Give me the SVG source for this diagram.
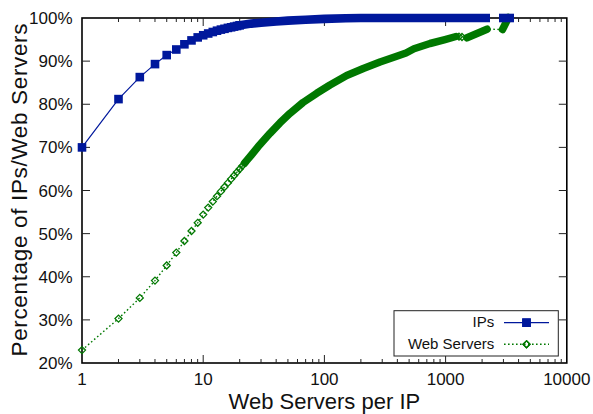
<svg xmlns="http://www.w3.org/2000/svg" width="593" height="414" viewBox="0 0 593 414">
  <style>
    text { font-family: "Liberation Sans", Arial, Helvetica, sans-serif; fill: #111; }
    .tick-label { font-size: 17px; }
    .axis-title { font-size: 22px; }
    .legend-label { font-size: 15px; text-anchor: end; }
    .border { fill: none; stroke: #000; stroke-width: 1.6; }
    .ticks { fill: none; stroke: #222; stroke-width: 1; }
    .ips-line { fill: none; stroke: #00189c; stroke-width: 1.2; }
    .ips-band { fill: none; stroke: #00189c; stroke-width: 8.6; stroke-linecap: square; }
    .ws-line { fill: none; stroke: #007800; stroke-width: 1.4; stroke-dasharray: 1.6 2.4; }
    .ws-band { fill: none; stroke: #007800; stroke-width: 7.5; stroke-linecap: round; stroke-linejoin: round; }
    .ips-pts { fill: none; stroke: none; marker-start: url(#sq); marker-mid: url(#sq); marker-end: url(#sq); }
    .ws-pts { fill: none; stroke: none; marker-start: url(#dm); marker-mid: url(#dm); marker-end: url(#dm); }
  </style>
  <defs>
    <marker id="sq" viewBox="-5 -5 10 10" refX="0" refY="0" markerWidth="10" markerHeight="10" markerUnits="userSpaceOnUse" overflow="visible">
      <rect x="-4.3" y="-4.3" width="8.6" height="8.6" fill="#00189c"/>
    </marker>
    <marker id="dm" viewBox="-5 -5 10 10" refX="0" refY="0" markerWidth="10" markerHeight="10" markerUnits="userSpaceOnUse" overflow="visible">
      <path d="M0,-3.5 L3.5,0 L0,3.5 L-3.5,0 Z" fill="none" stroke="#007800" stroke-width="1.3"/>
    </marker>
  </defs>

  <!-- frame and tick marks (log x axis, 121.2 px per decade) -->
  <g id="axes">
    <rect class="border" x="82" y="18" width="484.8" height="345"/>
    <path class="ticks" d="
      M82,319.875 h8 M82,276.75 h8 M82,233.625 h8 M82,190.5 h8 M82,147.375 h8 M82,104.25 h8 M82,61.125 h8
      M566.8,319.875 h-8 M566.8,276.75 h-8 M566.8,233.625 h-8 M566.8,190.5 h-8 M566.8,147.375 h-8 M566.8,104.25 h-8 M566.8,61.125 h-8
      M203.2,363 v-8 M324.4,363 v-8 M445.6,363 v-8
      M203.2,18 v8 M324.4,18 v8 M445.6,18 v8
      M118.49,363 v-4 M139.83,363 v-4 M154.97,363 v-4 M166.72,363 v-4 M176.31,363 v-4 M184.43,363 v-4 M191.45,363 v-4 M197.65,363 v-4
      M239.69,363 v-4 M261.03,363 v-4 M276.17,363 v-4 M287.92,363 v-4 M297.51,363 v-4 M305.63,363 v-4 M312.65,363 v-4 M318.85,363 v-4
      M360.89,363 v-4 M382.23,363 v-4 M397.37,363 v-4 M409.12,363 v-4 M418.71,363 v-4 M426.83,363 v-4 M433.85,363 v-4 M440.05,363 v-4
      M482.09,363 v-4 M503.43,363 v-4 M518.57,363 v-4 M530.32,363 v-4 M539.91,363 v-4 M548.03,363 v-4 M555.05,363 v-4 M561.25,363 v-4
      M118.49,18 v4 M139.83,18 v4 M154.97,18 v4 M166.72,18 v4 M176.31,18 v4 M184.43,18 v4 M191.45,18 v4 M197.65,18 v4
      M239.69,18 v4 M261.03,18 v4 M276.17,18 v4 M287.92,18 v4 M297.51,18 v4 M305.63,18 v4 M312.65,18 v4 M318.85,18 v4
      M360.89,18 v4 M382.23,18 v4 M397.37,18 v4 M409.12,18 v4 M418.71,18 v4 M426.83,18 v4 M433.85,18 v4 M440.05,18 v4
      M482.09,18 v4 M503.43,18 v4 M518.57,18 v4 M530.32,18 v4 M539.91,18 v4 M548.03,18 v4 M555.05,18 v4 M561.25,18 v4"/>
  </g>

  <g id="y-tick-labels" class="tick-label" text-anchor="end">
    <text x="72.5" y="24">100%</text>
    <text x="72.5" y="67.1">90%</text>
    <text x="72.5" y="110.3">80%</text>
    <text x="72.5" y="153.4">70%</text>
    <text x="72.5" y="196.5">60%</text>
    <text x="72.5" y="239.6">50%</text>
    <text x="72.5" y="282.8">40%</text>
    <text x="72.5" y="325.9">30%</text>
    <text x="72.5" y="369">20%</text>
  </g>

  <g id="x-tick-labels" class="tick-label" text-anchor="middle">
    <text x="82" y="384.5">1</text>
    <text x="203.2" y="384.5">10</text>
    <text x="324.4" y="384.5">100</text>
    <text x="445.6" y="384.5">1000</text>
    <text x="566.8" y="384.5">10000</text>
  </g>

  <g id="axis-titles" class="axis-title">
    <text x="324.4" y="408.5" text-anchor="middle">Web Servers per IP</text>
    <text transform="translate(27,190) rotate(-90)" text-anchor="middle" font-size="22.5" textLength="333" lengthAdjust="spacing">Percentage of IPs/Web Servers</text>
  </g>

  <!-- series: Web Servers (dotted line, hollow diamonds) -->
  <g id="series-web-servers">
    <path class="ws-line" d="M82,350.1 L118.5,318.6 L139.8,297.9 L155,280.6 L166.7,265.5 L176.3,252.6 L184.4,241 L191.5,231 L197.7,222.8 L203.2,214.6 L208.2,207.6 L212.8,201.6 L217,196.2 L220.9,191.4 L224.5,187 L227.9,182.9 L231.1,179.1 L234.1,175.5 L237,172.1 L239.7,169 L242.25,166 L244.7,163 L247.05,160.2 L249.3,157.5 L251.4,155 L258,146.8 L270,133.3 L280,122.8 L290,113.3 L303,102.5 L316.7,93.3 L330,85 L346.7,75.5 L363.3,68.5 L380,62 L396,56.5 L406,53 L414,48.8 L430,43.5 L445,39.6 L456,36.5 L459,36.7 L462,37 L467,37.8 L487,29.2 L502.5,29.5 L508.5,17.5"/>
    <path class="ws-band" d="M244.7,163 L247.05,160.2 L251.4,155 L258,146.8 L270,133.3 L280,122.8 L290,113.3 L303,102.5 L316.7,93.3 L330,85 L346.7,75.5 L363.3,68.5 L380,62 L396,56.5 L406,53 L414,48.8 L430,43.5 L445,39.6 L456,36.5"/>
    <path class="ws-band" d="M467,37.8 L487,29.2"/>
    <path class="ws-band" d="M502.5,29.5 L508.5,17.5"/>
    <path class="ws-pts" d="M82,350.1 L118.5,318.6 L139.8,297.9 L155,280.6 L166.7,265.5 L176.3,252.6 L184.4,241 L191.5,231 L197.7,222.8 L203.2,214.6 L208.2,207.6 L212.8,201.6 L217,196.2 L220.9,191.4 L224.5,187 L227.9,182.9 L231.1,179.1 L234.1,175.5 L237,172.1 L239.7,169 L242.25,166 L244.7,163 L459,36.7 L462,37"/>
  </g>

  <!-- series: IPs (solid line, filled squares) -->
  <g id="series-ips">
    <path class="ips-line" d="M82,147.4 L118.5,99.1 L139.8,77.1 L155,64.1 L166.7,55.1 L176.3,49.5 L184.4,44.3 L191.5,40.4 L197.7,37.4 L203.2,35.25 L208.2,33.5 L212.8,32 L217,30.7 L220.9,29.6 L224.5,28.8 L227.9,27.9 L231.1,27.3 L234.1,26.6 L237,26 L239.7,25.3 L251.4,23.6 L261,22.7 L276.2,21.45 L287.9,20.6 L305.6,19.7 L324.4,18.9 L345.7,18.2 L360.9,18 L485.7,18 M503.3,18 L509.7,18"/>
    <path class="ips-band" d="M239.7,25.3 L251.4,23.6 L261,22.7 L276.2,21.45 L287.9,20.6 L305.6,19.7 L324.4,18.9 L345.7,18.2 L360.9,18 L485.7,18"/>
    <path class="ips-band" d="M503.3,18 L509.7,18"/>
    <path class="ips-pts" d="M82,147.4 L118.5,99.1 L139.8,77.1 L155,64.1 L166.7,55.1 L176.3,49.5 L184.4,44.3 L191.5,40.4 L197.7,37.4 L203.2,35.25 L208.2,33.5 L212.8,32 L217,30.7 L220.9,29.6 L224.5,28.8 L227.9,27.9 L231.1,27.3 L234.1,26.6 L237,26 L239.7,25.3"/>
  </g>

  <!-- key -->
  <g id="legend">
    <rect x="394" y="310.7" width="164.3" height="45.3" fill="#fff" stroke="#222" stroke-width="1"/>
    <text class="legend-label" x="494.3" y="327.3">IPs</text>
    <path class="ips-line" d="M504,322.7 H549"/>
    <path class="ips-pts" d="M526.5,322.7 h0.01"/>
    <text class="legend-label" x="494.3" y="349.3">Web Servers</text>
    <path class="ws-line" d="M504,344.3 H549"/>
    <path class="ws-pts" d="M526.5,344.3 h0.01"/>
  </g>
</svg>
